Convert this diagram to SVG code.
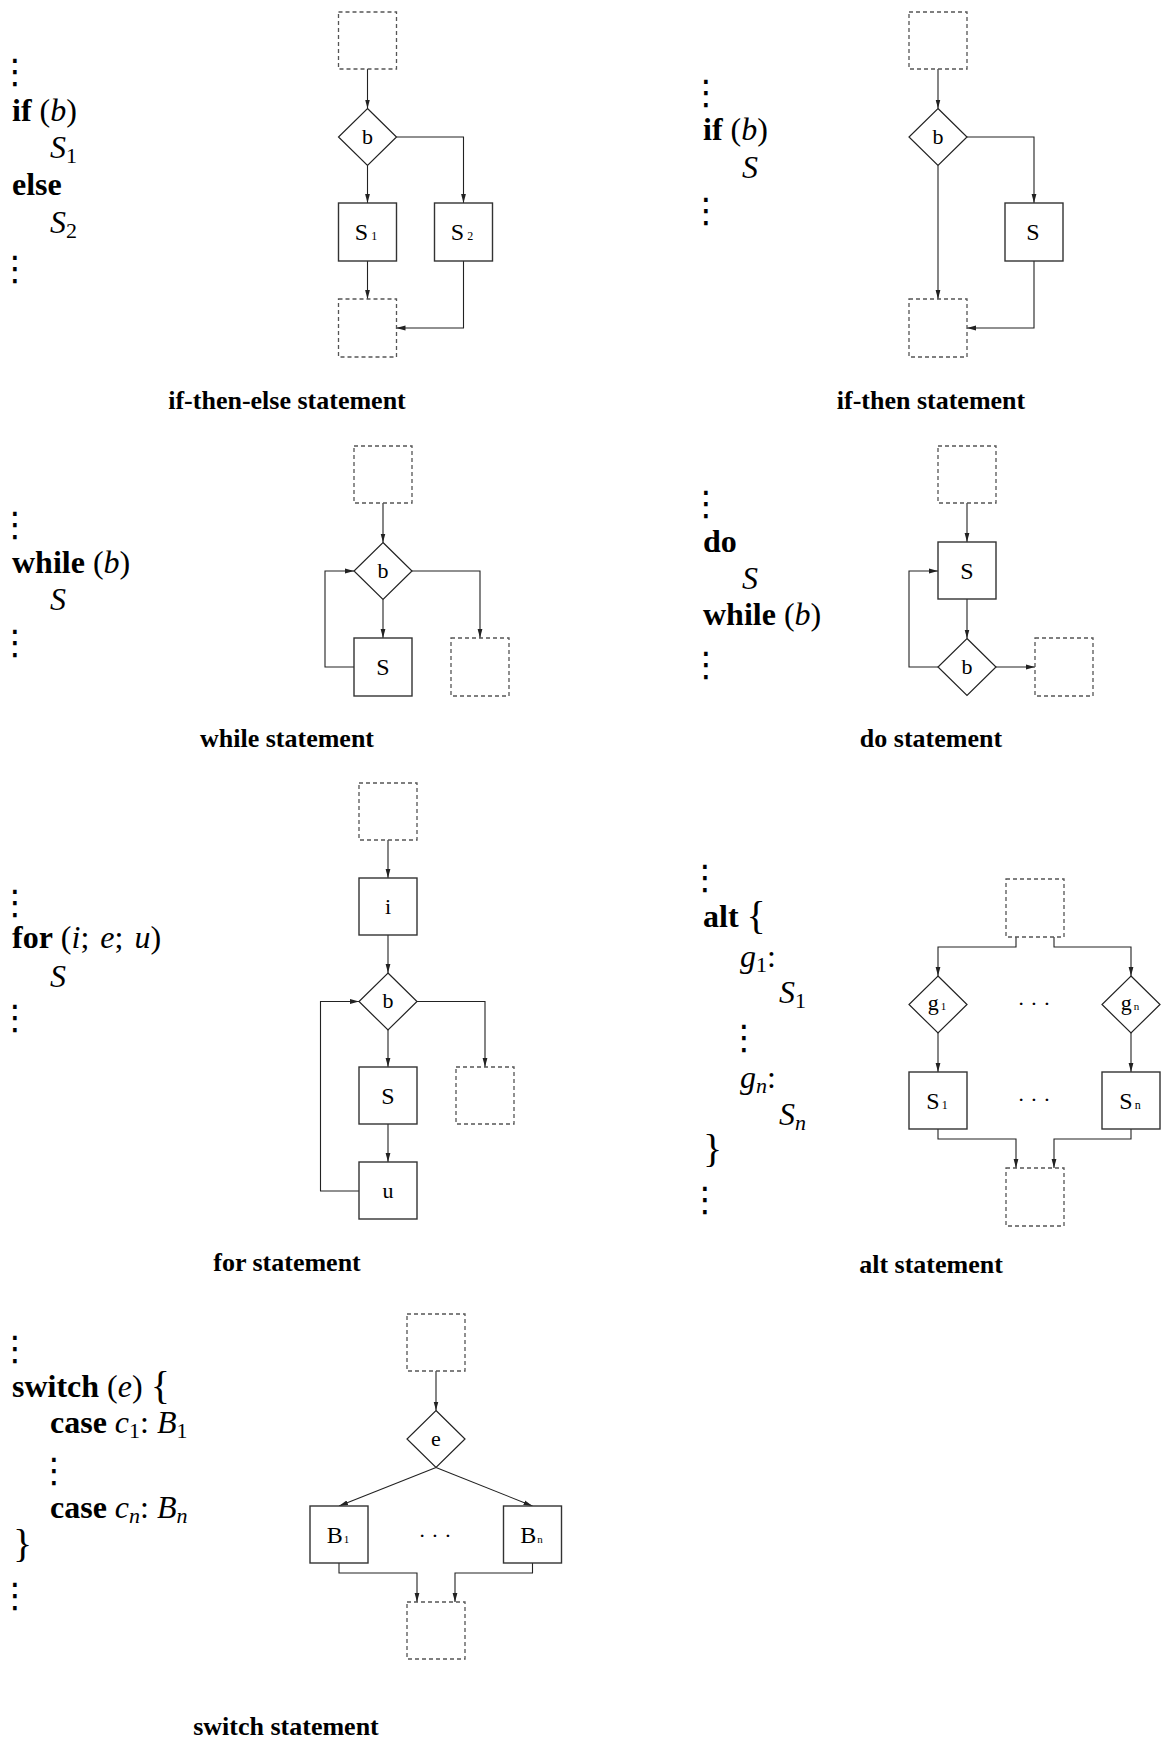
<svg xmlns="http://www.w3.org/2000/svg" width="1161" height="1742" viewBox="0 0 1161 1742">
<style>
.dash{fill:#fff;stroke:#555;stroke-width:1.3;stroke-dasharray:4 3}
.box{fill:#fff;stroke:#333;stroke-width:1.4}
.dia{fill:#fff;stroke:#222;stroke-width:1.2}
.edge{fill:none;stroke:#222;stroke-width:1.1;marker-end:url(#arr)}
.lbl{font-family:"Liberation Serif",serif;font-size:22px;text-anchor:middle;fill:#000}
.big{font-size:24px}
.code{font-family:"Liberation Serif",serif;font-size:32px;fill:#000}
.b{font-weight:bold}
.i{font-style:italic}
.brace{font-size:40px}
.cap{font-family:"Liberation Serif",serif;font-size:26px;font-weight:bold;text-anchor:middle;fill:#000}
.vd{font-family:"DejaVu Sans",sans-serif;font-size:34px;text-anchor:middle;fill:#000}
.cd{font-family:"Liberation Serif",serif;font-size:22px;text-anchor:middle;fill:#000}
</style>
<defs>
<marker id="arr" markerUnits="userSpaceOnUse" markerWidth="9" markerHeight="6" refX="9" refY="3" orient="auto">
<path d="M0,0.6 L9,3 L0,5.4 z" fill="#222"/>
</marker>
</defs>

<!-- code text -->
<g id="code-ifelse">
<text class="vd" x="15" y="83">⋮</text>
<text class="code" x="12" y="121"><tspan class="b">if</tspan> (<tspan class="i">b</tspan>)</text>
<text class="code" x="50" y="158"><tspan class="i">S</tspan><tspan font-size="22" dy="5">1</tspan></text>
<text class="code" x="12" y="195"><tspan class="b">else</tspan></text>
<text class="code" x="50" y="233"><tspan class="i">S</tspan><tspan font-size="22" dy="5">2</tspan></text>
<text class="vd" x="15" y="280">⋮</text>
</g>
<g id="code-ifthen">
<text class="vd" x="706" y="104">⋮</text>
<text class="code" x="703" y="140"><tspan class="b">if</tspan> (<tspan class="i">b</tspan>)</text>
<text class="code" x="742" y="178"><tspan class="i">S</tspan></text>
<text class="vd" x="706" y="222">⋮</text>
</g>
<g id="code-while">
<text class="vd" x="15" y="536">⋮</text>
<text class="code" x="12" y="573"><tspan class="b">while</tspan> (<tspan class="i">b</tspan>)</text>
<text class="code" x="50" y="610"><tspan class="i">S</tspan></text>
<text class="vd" x="15" y="654">⋮</text>
</g>
<g id="code-do">
<text class="vd" x="706" y="515">⋮</text>
<text class="code" x="703" y="552"><tspan class="b">do</tspan></text>
<text class="code" x="742" y="589"><tspan class="i">S</tspan></text>
<text class="code" x="703" y="625"><tspan class="b">while</tspan> (<tspan class="i">b</tspan>)</text>
<text class="vd" x="706" y="676">⋮</text>
</g>
<g id="code-for">
<text class="vd" x="15" y="914">⋮</text>
<text class="code" x="12" y="948"><tspan class="b">for</tspan> (<tspan class="i">i</tspan>;<tspan class="i" dx="11">e</tspan>;<tspan class="i" dx="11">u</tspan>)</text>
<text class="code" x="50" y="987"><tspan class="i">S</tspan></text>
<text class="vd" x="15" y="1029">⋮</text>
</g>
<g id="code-alt">
<text class="vd" x="705" y="889">⋮</text>
<text class="code" x="703" y="927"><tspan class="b">alt</tspan> <tspan class="brace" dy="2">{</tspan></text>
<text class="code" x="740" y="967"><tspan class="i">g</tspan><tspan font-size="22" dy="5">1</tspan><tspan dy="-5">:</tspan></text>
<text class="code" x="779" y="1003"><tspan class="i">S</tspan><tspan font-size="22" dy="5">1</tspan></text>
<text class="vd" x="744" y="1049">⋮</text>
<text class="code" x="740" y="1088"><tspan class="i">g</tspan><tspan font-size="22" class="i" dy="5">n</tspan><tspan dy="-5">:</tspan></text>
<text class="code" x="779" y="1125"><tspan class="i">S</tspan><tspan font-size="22" class="i" dy="5">n</tspan></text>
<text class="code brace" x="703" y="1162">}</text>
<text class="vd" x="705" y="1211">⋮</text>
</g>
<g id="code-switch">
<text class="vd" x="15" y="1360">⋮</text>
<text class="code" x="12" y="1397"><tspan class="b">switch</tspan> (<tspan class="i">e</tspan>) <tspan class="brace" dy="2">{</tspan></text>
<text class="code" x="50" y="1433"><tspan class="b">case</tspan> <tspan class="i">c</tspan><tspan font-size="22" dy="5">1</tspan><tspan dy="-5">: </tspan><tspan class="i">B</tspan><tspan font-size="22" dy="5">1</tspan></text>
<text class="vd" x="54" y="1482">⋮</text>
<text class="code" x="50" y="1518"><tspan class="b">case</tspan> <tspan class="i">c</tspan><tspan font-size="22" class="i" dy="5">n</tspan><tspan dy="-5">: </tspan><tspan class="i">B</tspan><tspan font-size="22" class="i" dy="5">n</tspan></text>
<text class="code brace" x="13" y="1557">}</text>
<text class="vd" x="15" y="1607">⋮</text>
</g>

<!-- connectors -->
<g id="connectors">
<path class="edge" d="M367.5,69 V108.5"/>
<path class="edge" d="M367.5,165.5 V203"/>
<path class="edge" d="M396.5,137 H463.5 V203"/>
<path class="edge" d="M367.5,261 V299"/>
<path class="edge" d="M463.5,261 V328 H396.5"/>

<path class="edge" d="M938,69 V108.5"/>
<path class="edge" d="M938,165.5 V299"/>
<path class="edge" d="M967,137 H1034 V203"/>
<path class="edge" d="M1034,261 V328 H967"/>

<path class="edge" d="M383,503 V542.5"/>
<path class="edge" d="M383,599.5 V638"/>
<path class="edge" d="M412,571 H480 V638"/>
<path class="edge" d="M354,667 H325 V571 H354"/>

<path class="edge" d="M967,503 V542"/>
<path class="edge" d="M967,599 V638.5"/>
<path class="edge" d="M938,667 H909 V571 H938"/>
<path class="edge" d="M996,667 H1035"/>

<path class="edge" d="M388,840 V878"/>
<path class="edge" d="M388,935 V973"/>
<path class="edge" d="M388,1030 V1067"/>
<path class="edge" d="M388,1124 V1162"/>
<path class="edge" d="M359,1191 H320.5 V1001.5 H359"/>
<path class="edge" d="M417,1001.5 H485 V1067"/>

<path class="edge" d="M1016,937 V947 H938 V976"/>
<path class="edge" d="M1054,937 V947 H1131 V976"/>
<path class="edge" d="M938,1033 V1072"/>
<path class="edge" d="M1131,1033 V1072"/>
<path class="edge" d="M938,1129 V1139 H1016 V1168"/>
<path class="edge" d="M1131,1129 V1139 H1054 V1168"/>

<path class="edge" d="M436,1371 V1410.5"/>
<path class="edge" d="M436,1467.5 L339,1506"/>
<path class="edge" d="M436,1467.5 L532.5,1506"/>
<path class="edge" d="M339,1563 V1573 H417 V1602"/>
<path class="edge" d="M532.5,1563 V1573 H455 V1602"/>
</g>

<!-- panel 1 if-then-else -->
<g id="ite-entry"><rect class="dash" x="338.5" y="12" width="58" height="57"/></g>
<g id="ite-b"><path class="dia" d="M367.5,108.5 L396.5,137 L367.5,165.5 L338.5,137 Z"/><text class="lbl" x="367.5" y="144">b</text></g>
<g id="ite-s1"><rect class="box" x="338.5" y="203" width="58" height="58"/><text class="lbl big" x="366" y="240">S<tspan font-size="12" dx="3">1</tspan></text></g>
<g id="ite-s2"><rect class="box" x="434.5" y="203" width="58" height="58"/><text class="lbl big" x="462" y="240">S<tspan font-size="12" dx="3">2</tspan></text></g>
<g id="ite-exit"><rect class="dash" x="338.5" y="299" width="58" height="58"/></g>

<!-- panel 2 if-then -->
<g id="it-entry"><rect class="dash" x="909" y="12" width="58" height="57"/></g>
<g id="it-b"><path class="dia" d="M938,108.5 L967,137 L938,165.5 L909,137 Z"/><text class="lbl" x="938" y="144">b</text></g>
<g id="it-s"><rect class="box" x="1005" y="203" width="58" height="58"/><text class="lbl big" x="1033" y="240">S</text></g>
<g id="it-exit"><rect class="dash" x="909" y="299" width="58" height="58"/></g>

<!-- panel 3 while -->
<g id="wh-entry"><rect class="dash" x="354" y="446" width="58" height="57"/></g>
<g id="wh-b"><path class="dia" d="M383,542.5 L412,571 L383,599.5 L354,571 Z"/><text class="lbl" x="383" y="578">b</text></g>
<g id="wh-s"><rect class="box" x="354" y="638" width="58" height="58"/><text class="lbl big" x="383" y="675">S</text></g>
<g id="wh-exit"><rect class="dash" x="451" y="638" width="58" height="58"/></g>

<!-- panel 4 do -->
<g id="do-entry"><rect class="dash" x="938" y="446" width="58" height="57"/></g>
<g id="do-s"><rect class="box" x="938" y="542" width="58" height="57"/><text class="lbl big" x="967" y="579">S</text></g>
<g id="do-b"><path class="dia" d="M967,638.5 L996,667 L967,695.5 L938,667 Z"/><text class="lbl" x="967" y="674">b</text></g>
<g id="do-exit"><rect class="dash" x="1035" y="638" width="58" height="58"/></g>

<!-- panel 5 for -->
<g id="for-entry"><rect class="dash" x="359" y="783" width="58" height="57"/></g>
<g id="for-i"><rect class="box" x="359" y="878" width="58" height="57"/><text class="lbl" x="388" y="914">i</text></g>
<g id="for-b"><path class="dia" d="M388,973 L417,1001.5 L388,1030 L359,1001.5 Z"/><text class="lbl" x="388" y="1008">b</text></g>
<g id="for-s"><rect class="box" x="359" y="1067" width="58" height="57"/><text class="lbl big" x="388" y="1104">S</text></g>
<g id="for-u"><rect class="box" x="359" y="1162" width="58" height="57"/><text class="lbl" x="388" y="1198">u</text></g>
<g id="for-exit"><rect class="dash" x="456" y="1067" width="58" height="57"/></g>

<!-- panel 6 alt -->
<g id="alt-entry"><rect class="dash" x="1006" y="879" width="58" height="58"/></g>
<g id="alt-g1"><path class="dia" d="M938,976 L967,1004.5 L938,1033 L909,1004.5 Z"/><text class="lbl" x="937" y="1010">g<tspan font-size="11" dx="2">1</tspan></text></g>
<g id="alt-gn"><path class="dia" d="M1131,976 L1160,1004.5 L1131,1033 L1102,1004.5 Z"/><text class="lbl" x="1130" y="1010">g<tspan font-size="11" dx="2">n</tspan></text></g>
<text class="cd" x="1034" y="1011">· · ·</text>
<g id="alt-s1"><rect class="box" x="909" y="1072" width="58" height="57"/><text class="lbl big" x="937" y="1109">S<tspan font-size="12" dx="2">1</tspan></text></g>
<g id="alt-sn"><rect class="box" x="1102" y="1072" width="58" height="57"/><text class="lbl big" x="1130" y="1109">S<tspan font-size="12" dx="2">n</tspan></text></g>
<text class="cd" x="1034" y="1107">· · ·</text>
<g id="alt-exit"><rect class="dash" x="1006" y="1168" width="58" height="58"/></g>

<!-- panel 7 switch -->
<g id="sw-entry"><rect class="dash" x="407" y="1314" width="58" height="57"/></g>
<g id="sw-e"><path class="dia" d="M436,1410.5 L465,1439 L436,1467.5 L407,1439 Z"/><text class="lbl" x="436" y="1446">e</text></g>
<g id="sw-b1"><rect class="box" x="310" y="1506" width="58" height="57"/><text class="lbl big" x="338" y="1543">B<tspan font-size="11" dx="1">1</tspan></text></g>
<g id="sw-bn"><rect class="box" x="503.5" y="1506" width="58" height="57"/><text class="lbl big" x="531.5" y="1543">B<tspan font-size="11" dx="1">n</tspan></text></g>
<text class="cd" x="435" y="1543">· · ·</text>
<g id="sw-exit"><rect class="dash" x="407" y="1602" width="58" height="57"/></g>

<!-- captions -->
<text class="cap" x="287" y="409">if-then-else statement</text>
<text class="cap" x="931" y="409">if-then statement</text>
<text class="cap" x="287" y="747">while statement</text>
<text class="cap" x="931" y="747">do statement</text>
<text class="cap" x="287" y="1271">for statement</text>
<text class="cap" x="931" y="1273">alt statement</text>
<text class="cap" x="286" y="1735">switch statement</text>
</svg>
